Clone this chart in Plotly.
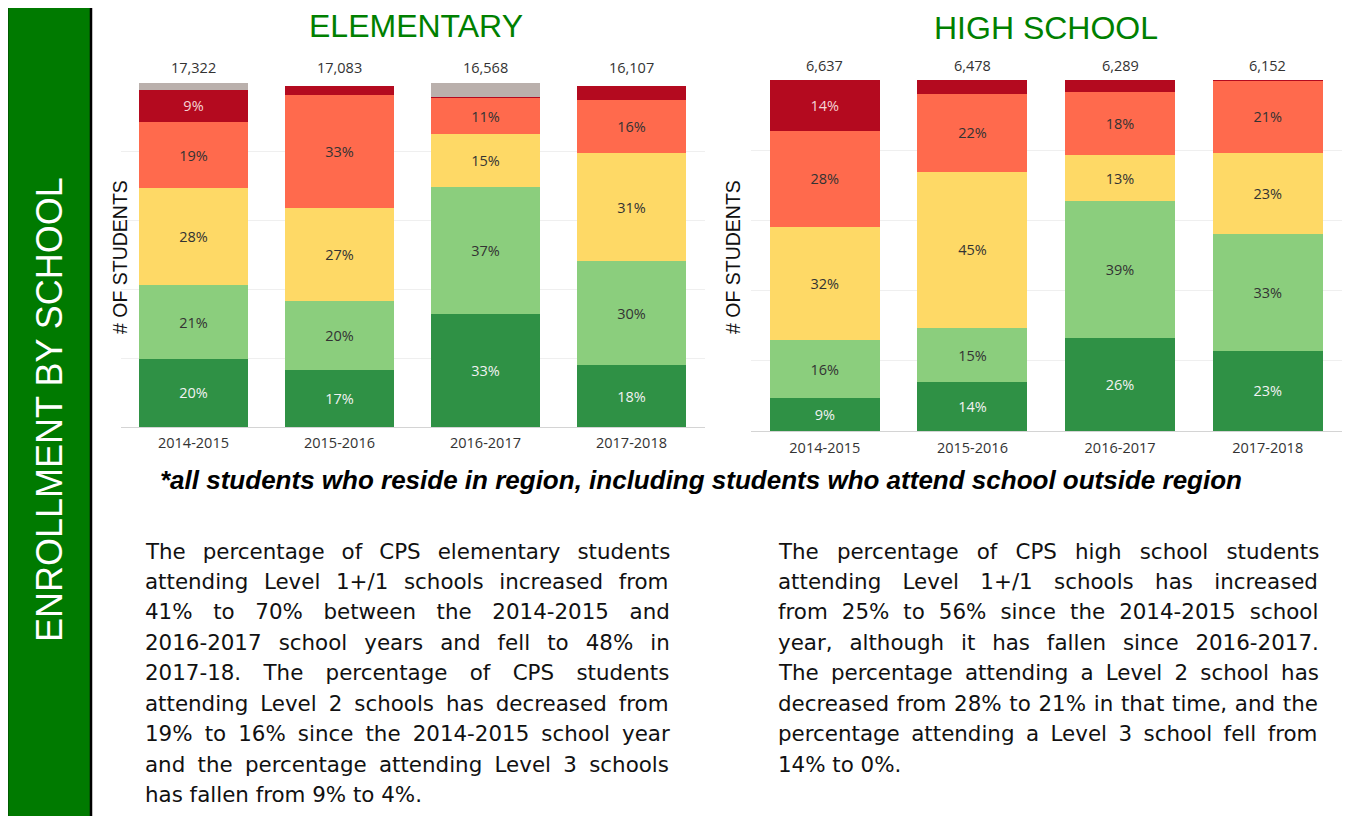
import plotly.graph_objects as go

W, H = 1353, 816
OFF = 8                     # default page margin of the html body
FW, FH = W - OFF, H - OFF   # figure size

years = ["2014-2015", "2015-2016", "2016-2017", "2017-2018"]

# Elementary (% of students, bottom to top)
elem_totals = [17322, 17083, 16568, 16107]
elem_l1plus = [19.8, 16.6, 32.8, 18.0]
elem_l1 = [21.4, 20.0, 36.9, 30.2]
elem_l2plus = [28.2, 27.0, 15.4, 31.4]
elem_l2 = [19.3, 32.8, 10.6, 15.6]
elem_l3 = [9.4, 2.8, 0.3, 3.9]
elem_other = [1.9, 0.0, 4.0, 0.0]

# High school
hs_totals = [6637, 6478, 6289, 6152]
hs_l1plus = [9.4, 14.0, 26.4, 22.8]
hs_l1 = [16.4, 15.3, 39.0, 33.2]
hs_l2plus = [32.2, 44.6, 13.1, 23.2]
hs_l2 = [27.6, 22.2, 18.1, 20.6]
hs_l3 = [14.4, 3.9, 3.4, 0.2]
hs_other = [0.0, 0.0, 0.0, 0.0]

left_par = [
    "The percentage of CPS elementary students",
    "attending Level 1+/1 schools increased from",
    "41% to 70% between the 2014-2015 and",
    "2016-2017 school years and fell to 48% in",
    "2017-18. The percentage of CPS students",
    "attending Level 2 schools has decreased from",
    "19% to 16% since the 2014-2015 school year",
    "and the percentage attending Level 3 schools",
    "has fallen from 9% to 4%.",
]
right_par = [
    "The percentage of CPS high school students",
    "attending Level 1+/1 schools has increased",
    "from 25% to 56% since the 2014-2015 school",
    "year, although it has fallen since 2016-2017.",
    "The percentage attending a Level 2 school has",
    "decreased from 28% to 21% in that time, and the",
    "percentage attending a Level 3 school fell from",
    "14% to 0%.",
]

colors = ["#2F9145", "#8BCE7D", "#FED966", "#FF6A4D", "#B40A1F", "#BAB0AC"]
label_colors = ["#F2F2F2", "#333333", "#333333", "#333333", "#F5D5D5", "#333333"]

# approximate DejaVu Sans advance widths (units per em = 2048), for justification
DV = {" ": 651, "a": 1255, "b": 1300, "c": 1126, "d": 1300, "e": 1260, "f": 721, "g": 1300,
      "h": 1298, "i": 569, "j": 569, "k": 1186, "l": 569, "m": 1995, "n": 1298, "o": 1253,
      "p": 1300, "q": 1300, "r": 842, "s": 1067, "t": 803, "u": 1298, "v": 1212, "w": 1675,
      "x": 1212, "y": 1212, "z": 1075, "T": 1251, "C": 1430, "P": 1235, "S": 1300, "L": 1141,
      "%": 1946, ".": 651, ",": 651, "-": 739, "+": 1716, "/": 690}
for d in "0123456789":
    DV[d] = 1303


def px(x):
    return (x - OFF) / FW


def py(y):
    return 1 - (y - OFF) / FH


fig = go.Figure()


def add_stack(series, xaxis, yaxis, width):
    for i, vals in enumerate(series):
        fig.add_trace(go.Bar(
            x=years, y=vals, xaxis=xaxis, yaxis=yaxis,
            marker=dict(color=colors[i], line=dict(width=0)),
            width=width,
            text=[f"{round(v)}%" if v >= 5 else "" for v in vals],
            textposition="inside", insidetextanchor="middle",
            textangle=0,
            textfont=dict(family="Open Sans, Lato, sans-serif", size=14.5, color=label_colors[i]),
            showlegend=False, hoverinfo="skip",
        ))


add_stack([elem_l1plus, elem_l1, elem_l2plus, elem_l2, elem_l3, elem_other], "x", "y", 0.753)
add_stack([hs_l1plus, hs_l1, hs_l2plus, hs_l2, hs_l3, hs_other], "x2", "y2", 0.745)

axis_font = dict(family="Open Sans, Lato, sans-serif", size=14.5, color="#333333")

fig.update_layout(
    width=FW, height=FH, margin=dict(l=0, r=0, t=0, b=0),
    paper_bgcolor="white", plot_bgcolor="white",
    barmode="stack", bargap=0.25,
    uniformtext=dict(minsize=8, mode="show"),
    xaxis=dict(domain=[px(120.5), px(704.5)], showline=True, linecolor="#d4d4d4", linewidth=1,
               ticks="", tickfont=axis_font, showgrid=False, ticklabelstandoff=3),
    yaxis=dict(domain=[py(427), py(83)], range=[0, 100], showticklabels=False, ticks="",
               showgrid=True, gridcolor="#efefef", gridwidth=1, zeroline=False, dtick=20),
    xaxis2=dict(domain=[px(751), px(1341.5)], anchor="y2", showline=True, linecolor="#d4d4d4",
                linewidth=1, ticks="", tickfont=axis_font, showgrid=False, ticklabelstandoff=4),
    yaxis2=dict(domain=[py(431), py(80)], anchor="x2", range=[0, 100], showticklabels=False,
                ticks="", showgrid=True, gridcolor="#efefef", gridwidth=1, zeroline=False, dtick=20),
)

ann = []
for yr, t in zip(years, elem_totals):
    ann.append(dict(x=yr, xref="x", y=py(68), yref="paper", text=f"{t:,}", showarrow=False,
                    font=axis_font, xanchor="center", yanchor="middle"))
for yr, t in zip(years, hs_totals):
    ann.append(dict(x=yr, xref="x2", y=py(66), yref="paper", text=f"{t:,}", showarrow=False,
                    font=axis_font, xanchor="center", yanchor="middle"))

title_font = dict(family="Liberation Sans, Arial, sans-serif", size=32, color="#008000")
ann.append(dict(x=px(416), y=py(26), xref="paper", yref="paper", text="ELEMENTARY", showarrow=False,
                font=title_font, xanchor="center", yanchor="middle"))
ann.append(dict(x=px(1046), y=py(28), xref="paper", yref="paper", text="HIGH SCHOOL", showarrow=False,
                font=title_font, xanchor="center", yanchor="middle"))

ytitle_font = dict(family="Liberation Sans, Arial, sans-serif", size=19.5, color="#111111")
ann.append(dict(x=px(120), y=py(257), xref="paper", yref="paper", text="# OF STUDENTS", textangle=-90,
                showarrow=False, font=ytitle_font, xanchor="center", yanchor="middle"))
ann.append(dict(x=px(733), y=py(257), xref="paper", yref="paper", text="# OF STUDENTS", textangle=-90,
                showarrow=False, font=ytitle_font, xanchor="center", yanchor="middle"))

ann.append(dict(x=px(158), y=py(480), xref="paper", yref="paper",
                text="<b><i>*all students who reside in region, including students who attend school outside region</i></b>",
                showarrow=False, xanchor="left", yanchor="middle",
                font=dict(family="Liberation Sans, Arial, sans-serif", size=26, color="#000000")))

PAR_SIZE = 21.4
par_font = dict(family="DejaVu Sans, Verdana, sans-serif", size=PAR_SIZE, color="#111111")


def justify(line, target):
    natural = sum(DV.get(c, 1200) for c in line) * PAR_SIZE / 2048
    gaps = line.count(" ")
    ws = (target - natural) / gaps if gaps else 0
    return f'<span style="word-spacing:{ws:.2f}px">{line}</span>'


def add_par(lines, x0, width):
    for i, line in enumerate(lines):
        txt = justify(line, width) if i < len(lines) - 1 else line
        ann.append(dict(x=px(x0), y=py(551 + i * 30.45), xref="paper", yref="paper", text=txt,
                        showarrow=False, xanchor="left", yanchor="middle", font=par_font))


add_par(left_par, 143, 525)
add_par(right_par, 776, 541)

ann.append(dict(x=px(49), y=py(410), xref="paper", yref="paper", text="ENROLLMENT BY SCHOOL", textangle=-90,
                showarrow=False, xanchor="center", yanchor="middle",
                font=dict(family="Liberation Sans, Arial, sans-serif", size=36, color="#FFFFFF")))

fig.update_layout(annotations=ann)

shapes = [
    dict(type="rect", xref="paper", yref="paper", x0=px(7), x1=px(91), y0=py(830), y1=py(2),
         fillcolor="#007A00", line=dict(color="#000000", width=2.5), layer="below"),
    dict(type="rect", xref="paper", yref="paper", x0=px(1347), x1=1.0, y0=-0.02, y1=1.02,
         fillcolor="#000000", line=dict(width=0)),
]
fig.update_layout(shapes=shapes)

fig.write_html("out.html")
